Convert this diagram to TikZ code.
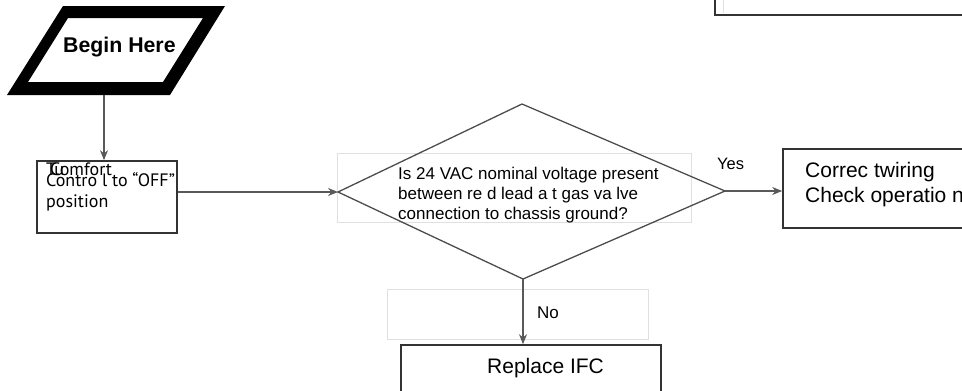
\documentclass[tikz,border=0pt]{standalone}
\usepackage{fontspec}
\setmainfont{Liberation Sans}
\newfontfamily\myr{PT Sans}
\usetikzlibrary{arrows.meta,calc}
\begin{document}
\begin{tikzpicture}[x=1pt,y=-1pt,
  conn/.style={draw=black!65,line width=1.3pt,-{Stealth[length=10pt,width=8pt]}},
  boxs/.style={draw=black!80,line width=1.6pt,fill=white},
  faint/.style={draw=black!12,line width=0.8pt},
  txt/.style={anchor=base west,inner sep=0pt,font=\fontsize{17}{20}\selectfont},
  ltxt/.style={anchor=base west,inner sep=0pt,font=\myr\fontsize{18}{21}\selectfont}]
\useasboundingbox (0,0) rectangle (962,391);
\clip (0,0) rectangle (962,391);
% top right box
\draw[boxs] (715,-20) rectangle (990,15);
\draw[faint] (723,-20) -- (723,13);
% begin parallelogram
\fill[black,even odd rule] (63,6) -- (225,6) -- (170,95) -- (7,95) -- cycle
  (68,18) -- (203,18) -- (163,82) -- (28,82) -- cycle;
\node[anchor=base west,inner sep=0pt,font=\bfseries\fontsize{21.3}{24}\selectfont] (begin) at (63,52) {Begin Here};
\coordinate (bb) at (104,95);
% box 1
\node[boxs,minimum width=140pt,minimum height=72pt,inner sep=0pt] (box1) at (107,197) {};
\node[ltxt] (t1a) at (46,175) {Tu};
\node[ltxt] (t1b) at (50,175) {Comfort};
\node[ltxt] (t1c) at (46,186) {Contro l to “OFF”};
\node[ltxt] (t1d) at (46,207) {position};
% diamond
\coordinate (dt) at (522,104);
\coordinate (dr) at (725,191);
\coordinate (db) at (523,279);
\coordinate (dl) at (338,192);
\draw[faint] (337,153) rectangle (691,222);
\draw[draw=black!70,line width=1.3pt,line join=miter] (dt) -- (dr) -- (db) -- (dl) -- cycle;
\node[txt] (q1) at (398,179) {Is 24 VAC nominal voltage present};
\node[txt] (q2) at (398,199) {between re d lead a t gas va lve};
\node[txt] (q3) at (398,219) {connection to chassis ground?};
% yes box
\node[boxs,minimum width=200pt,minimum height=79pt,inner sep=0pt] (yesbox) at (883,188.5) {};
\node[anchor=base west,inner sep=0pt,font=\fontsize{21}{25}\selectfont] (y1) at (805,177) {Correc twiring};
\node[anchor=base west,inner sep=0pt,font=\fontsize{21}{25}\selectfont] (y2) at (805,202) {Check operatio n};
\node[txt,font=\fontsize{16.5}{20}\selectfont] (yes) at (717,169) {Yes};
% no
\draw[faint] (387,289) rectangle (648,339);
\node[txt] (no) at (537,318) {No};
\node[boxs,minimum width=260pt,minimum height=60pt,inner sep=0pt] (ifc) at (531,375) {};
\node[anchor=base west,inner sep=0pt,font=\fontsize{21}{25}\selectfont] (ifct) at (487,373) {Replace IFC};
% connectors
\draw[conn] (bb) -- (bb |- box1.north);
\draw[conn] (box1.east |- dl) -- (dl);
\draw[conn] (dr) -- (yesbox.west |- dr);
\draw[conn] (db) -- (db |- ifc.north);
\end{tikzpicture}
\end{document}
